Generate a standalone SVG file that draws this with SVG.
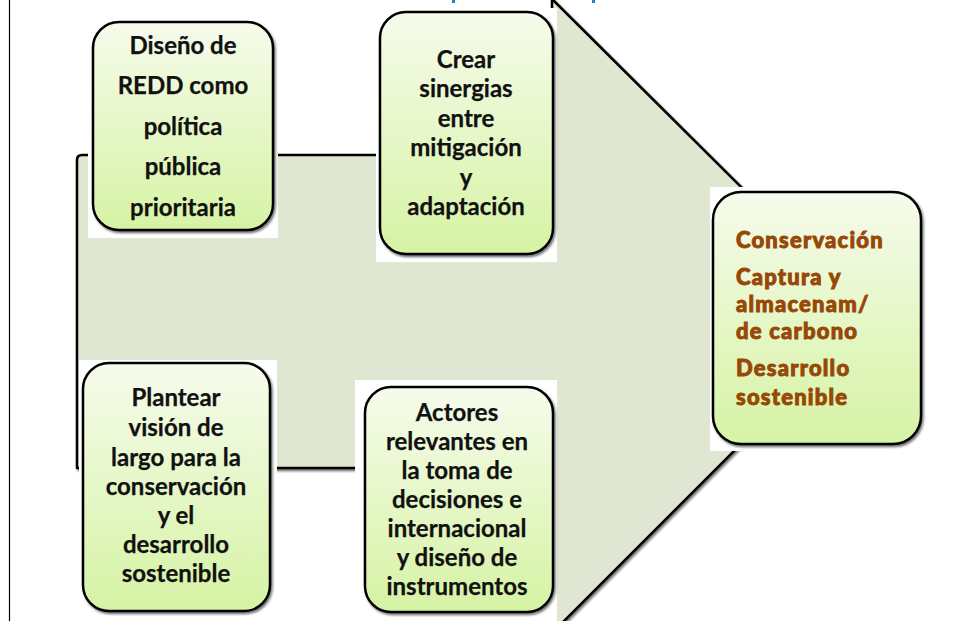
<svg xmlns="http://www.w3.org/2000/svg" width="955" height="621" viewBox="0 0 955 621">
<style>
.bx{fill:url(#g);stroke:#000;stroke-width:2.5;filter:url(#sh)}
.bg{fill:#fff}
.t{font-family:Lato,"Liberation Sans",sans-serif;font-weight:700;font-size:24px;fill:#111;text-anchor:middle;stroke:#111;stroke-width:0.25}
.r{font-family:Lato,"Liberation Sans",sans-serif;font-weight:900;font-size:22px;letter-spacing:1.2px;fill:#974706;stroke:#974706;stroke-width:0.9}
</style>
<defs>
<linearGradient id="g" x1="0" y1="0" x2="0" y2="1">
<stop offset="0" stop-color="#f6fbec"/>
<stop offset="1" stop-color="#d6f3a4"/>
</linearGradient>
<filter id="sh" x="-10%" y="-10%" width="130%" height="130%">
<feDropShadow dx="1.5" dy="2" stdDeviation="1.2" flood-color="#000" flood-opacity="0.55"/>
</filter>
</defs>
<rect width="955" height="621" fill="#fff"/>
<line x1="9.5" y1="0" x2="9.5" y2="621" stroke="#000" stroke-width="1.2"/>
<rect x="452" y="0" width="3" height="3" fill="#1b7fd6"/>
<rect x="592" y="0" width="3" height="3" fill="#1b7fd6"/>
<g id="connectors">
<path id="arrow" d="M82 155 L552 155 L552 -1 L870 315 L555 630 L555 468 L77 468 L77 160 Q77 155 82 155 Z" fill="#dfe6d2" stroke="#000" stroke-width="2.5" stroke-linejoin="round" filter="url(#sh)"/>
</g>
<g id="n1">
<rect class="bg" x="88" y="18" width="190" height="220"/>
<rect class="bx" x="93" y="22" width="180" height="208" rx="26"/>
<text class="t" x="183" y="54">Diseño de</text>
<text class="t" x="183" y="94">REDD como</text>
<text class="t" x="183" y="135">política</text>
<text class="t" x="183" y="175">pública</text>
<text class="t" x="183" y="216">prioritaria</text>
</g>
<g id="n2">
<rect class="bg" x="376" y="8" width="181" height="254"/>
<rect class="bx" x="380" y="12" width="173" height="242" rx="26"/>
<text class="t" x="466" y="68">Crear</text>
<text class="t" x="466" y="97">sinergias</text>
<text class="t" x="466" y="127">entre</text>
<text class="t" x="466" y="156">mitigación</text>
<text class="t" x="466" y="186">y</text>
<text class="t" x="466" y="215">adaptación</text>
</g>
<g id="n3">
<rect class="bg" x="79" y="360" width="198" height="261"/>
<rect class="bx" x="83" y="363" width="187" height="248" rx="26"/>
<text class="t" x="176" y="406">Plantear</text>
<text class="t" x="176" y="436">visión de</text>
<text class="t" x="176" y="466">largo para la</text>
<text class="t" x="176" y="495">conservación</text>
<text class="t" x="176" y="524">y el</text>
<text class="t" x="176" y="553">desarrollo</text>
<text class="t" x="176" y="582">sostenible</text>
</g>
<g id="n4">
<rect class="bg" x="355" y="380" width="202" height="241"/>
<rect class="bx" x="365" y="387" width="188" height="225" rx="26"/>
<text class="t" x="457" y="421">Actores</text>
<text class="t" x="457" y="450">relevantes en</text>
<text class="t" x="457" y="479">la toma de</text>
<text class="t" x="457" y="508">decisiones e</text>
<text class="t" x="457" y="537">internacional</text>
<text class="t" x="457" y="566">y diseño de</text>
<text class="t" x="457" y="595">instrumentos</text>
</g>
<g id="n5">
<rect class="bg" x="710" y="187" width="218" height="264"/>
<rect class="bx" x="713" y="192" width="208" height="252" rx="28"/>
<text class="r" x="736" y="248">Conservación</text>
<text class="r" x="736" y="285">Captura y</text>
<text class="r" x="736" y="312">almacenam/</text>
<text class="r" x="736" y="339">de carbono</text>
<text class="r" x="736" y="376">Desarrollo</text>
<text class="r" x="736" y="405">sostenible</text>
</g>
</svg>
